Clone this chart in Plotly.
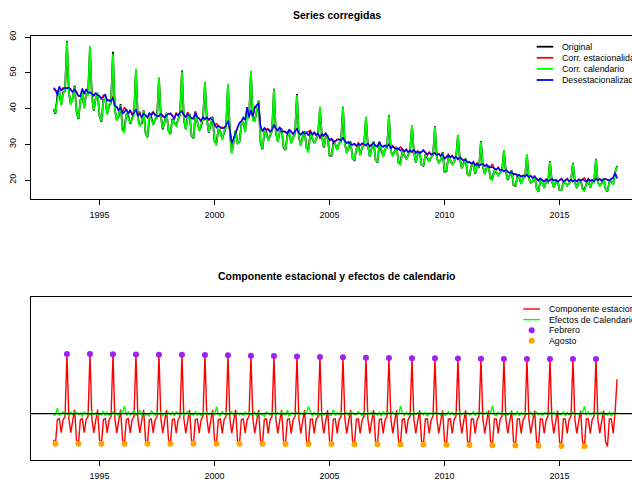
import plotly.graph_objects as go

# ---------------- data (monthly, Jan 1993 - Jul 2017) ----------------
inicio = 1993
ticks_x = [1995, 2000, 2005, 2010, 2015]
ticks_y = [20, 30, 40, 50, 60]

# Serie desestacionalizada (azul)
desestacionalizada = [
    45.8, 45.3, 43.6, 46.2, 45.0, 45.4, 45.8, 45.6, 45.9, 45.2, 44.6, 45.3,  # 1993
    44.4, 43.6, 43.4, 45.6, 44.0, 45.4, 44.4, 44.6, 44.1, 43.6, 44.3, 43.7,  # 1994
    43.5, 42.8, 43.2, 44.0, 42.2, 42.4, 42.0, 43.0, 40.8, 40.4, 39.6, 40.2,  # 1995
    38.6, 39.0, 39.8, 38.4, 39.6, 38.2, 38.8, 39.8, 38.0, 38.5, 37.6, 38.6,  # 1996
    38.2, 37.6, 38.8, 38.0, 38.9, 38.3, 37.8, 37.9, 38.5, 38.0, 37.5, 38.2,  # 1997
    38.4, 38.7, 37.9, 37.3, 38.5, 38.0, 39.0, 39.2, 38.2, 37.6, 38.6, 37.9,  # 1998
    37.3, 37.3, 38.9, 37.6, 37.2, 36.6, 37.6, 37.0, 37.5, 36.9, 37.3, 36.8,  # 1999
    35.6, 34.6, 35.2, 34.9, 34.4, 34.6, 35.2, 36.6, 34.0, 30.2, 31.6, 33.2,  # 2000
    34.6, 36.0, 36.4, 37.5, 36.8, 40.4, 37.6, 39.5, 37.8, 40.2, 41.0, 41.3,  # 2001
    35.0, 33.7, 34.6, 33.9, 34.2, 33.6, 34.0, 35.5, 34.4, 33.8, 34.8, 33.5,  # 2002
    33.6, 33.5, 32.9, 34.2, 33.4, 32.8, 33.7, 34.3, 33.1, 32.6, 33.4, 32.9,  # 2003
    33.2, 32.4, 33.6, 32.8, 33.3, 32.6, 33.0, 31.8, 32.9, 32.4, 33.1, 32.0,  # 2004
    31.2, 31.6, 30.6, 30.9, 31.3, 31.4, 31.0, 31.9, 30.8, 30.3, 30.7, 30.0,  # 2005
    29.8, 30.2, 29.6, 30.1, 29.7, 30.3, 29.9, 29.7, 30.2, 29.4, 29.8, 30.4,  # 2006
    29.5, 29.4, 30.6, 29.6, 29.2, 29.7, 29.3, 29.9, 28.9, 29.4, 29.0, 28.7,  # 2007
    28.8, 28.2, 28.6, 28.0, 28.5, 27.8, 28.3, 27.9, 28.4, 27.6, 28.0, 27.5,  # 2008
    27.8, 28.4, 27.6, 27.2, 27.7, 27.1, 27.4, 27.5, 27.0, 27.3, 26.8, 27.2,  # 2009
    26.0, 26.6, 26.9, 26.4, 26.7, 26.1, 26.5, 25.8, 26.3, 25.9, 25.4, 25.7,  # 2010
    24.9, 25.1, 24.6, 24.9, 24.2, 24.6, 24.0, 24.3, 24.5, 23.9, 24.2, 23.6,  # 2011
    23.5, 23.6, 23.2, 23.0, 23.4, 22.7, 22.9, 22.5, 22.8, 22.3, 22.0, 22.2,  # 2012
    21.6, 21.8, 21.2, 21.5, 20.9, 21.3, 21.0, 21.5, 20.8, 21.1, 20.6, 20.9,  # 2013
    20.3, 19.9, 20.4, 20.0, 19.6, 20.2, 19.7, 19.9, 20.3, 19.8, 20.1, 19.5,  # 2014
    20.0, 20.4, 19.6, 19.9, 20.3, 19.7, 20.1, 19.5, 20.0, 19.6, 20.2, 19.8,  # 2015
    20.1, 19.9, 19.5, 20.2, 19.8, 20.0, 19.6, 20.4, 19.9, 20.3, 19.7, 20.2,  # 2016
    20.3, 20.1, 19.8, 20.4, 20.6, 22.0, 20.4,                                # 2017
]

# Componente estacional (%)
comp_estacional = [
    -12.6, -14.6, -2.9, -2.4, -9.2, -2.9, -1.4, 28.8, -2.4, -9.2, -3.4, 1.9,  # 1993
    -12.6, -14.6, -2.9, -2.4, -9.2, -2.9, -1.4, 28.8, -2.4, -9.3, -3.4, 1.9,  # 1994
    -12.7, -14.6, -2.9, -2.4, -9.3, -2.9, -1.4, 28.7, -2.4, -9.3, -3.4, 1.9,  # 1995
    -12.7, -14.5, -2.8, -2.4, -9.3, -2.9, -1.4, 28.6, -2.4, -9.3, -3.5, 1.9,  # 1996
    -12.8, -14.5, -2.8, -2.5, -9.3, -2.9, -1.4, 28.5, -2.4, -9.3, -3.5, 1.8,  # 1997
    -12.8, -14.5, -2.8, -2.5, -9.4, -2.9, -1.4, 28.4, -2.5, -9.4, -3.5, 1.8,  # 1998
    -12.9, -14.6, -2.8, -2.5, -9.4, -2.9, -1.3, 28.3, -2.5, -9.4, -3.5, 1.8,  # 1999
    -12.9, -14.6, -2.8, -2.5, -9.4, -2.9, -1.3, 28.2, -2.5, -9.4, -3.5, 1.8,  # 2000
    -13.0, -14.6, -2.8, -2.5, -9.4, -3.0, -1.3, 28.0, -2.5, -9.4, -3.5, 1.8,  # 2001
    -13.0, -14.6, -2.7, -2.5, -9.5, -3.0, -1.3, 27.8, -2.5, -9.5, -3.5, 1.7,  # 2002
    -13.0, -14.7, -2.7, -2.5, -9.5, -3.0, -1.3, 27.6, -2.5, -9.5, -3.5, 1.7,  # 2003
    -13.1, -14.7, -2.7, -2.5, -9.5, -3.0, -1.3, 27.4, -2.5, -9.5, -3.5, 1.7,  # 2004
    -13.1, -14.7, -2.7, -2.5, -9.5, -3.0, -1.3, 27.2, -2.5, -9.5, -3.5, 1.7,  # 2005
    -13.1, -14.8, -2.7, -2.5, -9.5, -3.0, -1.3, 27.0, -2.5, -9.5, -3.6, 1.7,  # 2006
    -13.2, -14.8, -2.7, -2.5, -9.5, -3.0, -1.3, 26.9, -2.5, -9.5, -3.6, 1.6,  # 2007
    -13.2, -14.9, -2.7, -2.5, -9.5, -3.0, -1.2, 26.8, -2.5, -9.6, -3.6, 1.6,  # 2008
    -13.2, -14.9, -2.6, -2.5, -9.6, -3.0, -1.2, 26.7, -2.6, -9.6, -3.6, 1.6,  # 2009
    -13.3, -15.0, -2.6, -2.6, -9.6, -3.0, -1.2, 26.6, -2.6, -9.6, -3.6, 1.6,  # 2010
    -13.3, -15.1, -2.6, -2.6, -9.6, -3.0, -1.2, 26.5, -2.6, -9.6, -3.6, 1.6,  # 2011
    -13.3, -15.3, -2.6, -2.6, -9.6, -3.0, -1.2, 26.4, -2.6, -9.6, -3.6, 1.5,  # 2012
    -13.4, -15.4, -2.6, -2.6, -9.6, -3.0, -1.2, 26.4, -2.6, -9.6, -3.6, 1.5,  # 2013
    -13.4, -15.5, -2.6, -2.6, -9.6, -3.0, -1.2, 26.4, -2.6, -9.6, -3.6, 1.5,  # 2014
    -13.5, -15.6, -2.6, -2.6, -9.6, -3.0, -1.2, 26.4, -2.6, -9.6, -3.6, 1.5,  # 2015
    -13.5, -15.8, -2.6, -2.6, -9.6, -3.0, -1.2, 26.4, -2.6, -9.6, -3.6, 1.5,  # 2016
    -13.6, -15.9, -2.6, -2.6, -9.6, 0.8, 16.6,                                # 2017
]

# Efectos de calendario (%)
efectos_calendario = [
    -1.0, -0.4, 2.6, -0.8, 0.3, 0.9, -0.6, 0.4, -1.1, 0.7, -0.3, 0.5,   # 1993
    0.6, -0.5, 0.4, -1.4, 0.8, -0.2, 0.5, -0.7, 0.9, -0.4, 0.2, -0.9,   # 1994
    -0.3, -0.6, 1.2, -1.0, 0.6, -0.8, 0.2, 0.9, -0.5, 0.4, -1.2, 0.7,   # 1995
    0.8, 3.6, -0.9, 1.1, -0.6, 0.3, 1.4, -0.8, 0.2, 1.6, -1.3, 0.4,     # 1996
    -0.7, -0.5, -1.2, 1.3, 0.4, -0.6, 0.8, -0.3, 0.6, -0.9, 0.3, -0.4,  # 1997
    0.5, -0.6, 0.7, -1.1, 0.9, 0.2, -0.5, 0.6, -0.8, 0.3, 1.0, -0.6,    # 1998
    -0.4, -0.6, 0.9, -0.7, 0.3, -1.2, 0.6, -0.2, 0.8, -0.5, 0.1, 0.7,   # 1999
    -0.8, 3.4, -0.3, -1.1, 1.2, -0.4, 0.5, -0.6, 0.4, 0.9, -0.7, 0.2,   # 2000
    0.6, -0.5, 0.3, -0.9, 0.7, -0.3, 0.8, -0.5, -0.2, 0.6, -1.0, 0.4,   # 2001
    -0.2, -0.6, -1.3, 0.8, 0.4, -0.7, 0.6, 0.3, -0.8, 0.5, -0.4, 0.9,   # 2002
    -0.5, -0.6, 1.6, -1.4, 0.5, 0.2, -0.3, 0.7, -0.9, 0.4, -0.2, 0.6,   # 2003
    0.3, 3.5, 0.8, -1.2, 0.6, -0.5, 0.4, -1.0, 0.7, -0.6, 0.2, -0.3,    # 2004
    -0.9, -0.6, 1.9, -0.8, 0.5, -0.4, 0.7, -0.3, 0.2, 0.6, -1.1, 0.8,   # 2005
    0.4, -0.6, -0.5, 1.0, 0.3, -0.9, 0.6, -0.4, 0.5, -0.2, 0.8, -0.7,   # 2006
    0.2, -0.6, 0.6, -1.2, 0.9, -0.3, 0.4, 0.5, -0.6, 0.7, -0.4, 0.3,    # 2007
    -0.6, 3.7, 0.4, -0.9, 0.7, -0.5, 0.3, -0.7, 0.6, -0.3, 0.5, 0.2,    # 2008
    0.5, -0.6, 0.8, -1.3, 0.4, 0.2, -0.5, 0.6, -0.4, 0.3, -0.8, 0.7,    # 2009
    -0.8, -0.6, 1.1, -0.4, 0.6, -0.7, 0.3, -0.2, 0.8, -0.5, 0.4, -0.3,  # 2010
    0.4, -0.6, -0.2, 0.9, -0.8, 0.5, -0.3, 0.6, -0.5, 0.2, 0.7, -0.6,   # 2011
    0.3, 3.8, -0.5, -1.0, 0.7, -0.2, 0.5, -0.6, 0.4, -0.7, 0.3, 0.6,    # 2012
    -0.6, -0.6, 1.2, -1.1, 0.5, -0.3, 0.6, -0.4, 0.3, 0.8, -0.9, 0.2,   # 2013
    0.7, -0.6, 0.3, -0.8, 0.4, 0.2, -0.6, 0.5, -0.3, 0.6, -0.5, 0.4,    # 2014
    -0.5, -0.6, 0.8, -0.9, 0.6, -0.4, 0.3, 0.7, -0.6, 0.2, -0.3, 0.5,   # 2015
    0.6, 3.6, -0.7, 0.9, -0.5, 0.4, -0.2, 0.6, -0.4, 0.3, 0.7, -0.8,    # 2016
    -0.3, -0.6, 0.7, -1.0, 0.4, -0.3, 0.5,                              # 2017
]

anios_marcados = list(range(1993, 2017))  # años con punto de febrero/agosto

assert len(desestacionalizada) == len(comp_estacional) == len(efectos_calendario)

# ---------------- derived series (decomposition) ----------------
n = len(desestacionalizada)
tiempo = [inicio + i / 12 for i in range(n)]
f_est = [1 + s / 100 for s in comp_estacional]
f_cal = [1 + c / 100 for c in efectos_calendario]
original = [d * a * b for d, a, b in zip(desestacionalizada, f_est, f_cal)]
corr_calendario = [d * a for d, a in zip(desestacionalizada, f_est)]
corr_estacionalidad = [d * b for d, b in zip(desestacionalizada, f_cal)]

idx_pico = [(a - inicio) * 12 + 7 for a in anios_marcados]
idx_valle = [(a - inicio) * 12 + 1 for a in anios_marcados]

# ---------------- figure ----------------
W, H = 632, 482
L, R, T, B = 31, 0, 36, 22
PW, PH = W - L - R, H - T - B
FONT = "Liberation Sans, Arial, Helvetica, sans-serif"
VERDE = "#00FF00"
PURPURA = "#A020F0"
NARANJA = "#FFA500"

def px_x(X):
    return (X - L) / PW

def px_y(Y):
    return (H - B - Y) / PH

fig = go.Figure()

# top panel
for serie, color, w in [(original, "black", 1.8), (corr_estacionalidad, "red", 1.5),
                        (corr_calendario, VERDE, 1.7), (desestacionalizada, "blue", 1.5)]:
    fig.add_trace(go.Scatter(x=tiempo, y=serie, mode="lines",
                             line=dict(color=color, width=w),
                             xaxis="x", yaxis="y", hoverinfo="skip"))

# bottom panel
fig.add_trace(go.Scatter(x=tiempo, y=comp_estacional, mode="lines",
                         line=dict(color="red", width=1.4),
                         xaxis="x2", yaxis="y2", hoverinfo="skip"))
fig.add_trace(go.Scatter(x=tiempo, y=efectos_calendario, mode="lines",
                         line=dict(color=VERDE, width=1.4),
                         xaxis="x2", yaxis="y2", hoverinfo="skip"))
fig.add_trace(go.Scatter(x=[tiempo[i] for i in idx_pico],
                         y=[comp_estacional[i] for i in idx_pico],
                         mode="markers", marker=dict(color=PURPURA, size=6),
                         xaxis="x2", yaxis="y2", hoverinfo="skip"))
fig.add_trace(go.Scatter(x=[tiempo[i] for i in idx_valle],
                         y=[comp_estacional[i] for i in idx_valle],
                         mode="markers", marker=dict(color=NARANJA, size=6),
                         xaxis="x2", yaxis="y2", hoverinfo="skip"))

xr = [1992.02, 1992.02 + PW / 23.0]
top_dom = [(H - B - 198.7) / PH, 1.0]
bot_dom = [0.0, (H - B - 297.3) / PH]

xcommon = dict(range=xr, tickmode="array", tickvals=ticks_x, ticks="outside",
               ticklen=5, tickwidth=1, tickcolor="black", showline=True,
               linecolor="black", linewidth=1, mirror=True, showgrid=False,
               zeroline=False, tickfont=dict(size=9, color="black", family=FONT),
               ticklabelstandoff=2)

fig.update_layout(
    width=W, height=H,
    margin=dict(l=L, r=R, t=T, b=B, pad=0),
    paper_bgcolor="white", plot_bgcolor="white",
    showlegend=False,
    font=dict(family=FONT, size=9, color="black"),
    xaxis=dict(domain=[0, 1], anchor="y", **xcommon),
    xaxis2=dict(domain=[0, 1], anchor="y2", **xcommon),
    yaxis=dict(domain=top_dom, anchor="x", range=[14.77, 60.28],
               tickmode="array", tickvals=ticks_y, ticks="outside",
               ticklen=5, tickwidth=1, tickcolor="black", tickangle=-90,
               showline=True, linecolor="black", linewidth=1, mirror=False,
               showgrid=False, zeroline=False, ticklabelstandoff=5,
               tickfont=dict(size=9, color="black", family=FONT)),
    yaxis2=dict(domain=bot_dom, anchor="x2", range=[-22.4, 56.2],
                showticklabels=False, ticks="", showline=True,
                linecolor="black", linewidth=1, mirror=False,
                showgrid=False, zeroline=False),
)

shapes = []
annotations = []

# zero line bottom panel
shapes.append(dict(type="line", xref="paper", x0=0, x1=1, yref="y2", y0=0, y1=0,
                   line=dict(color="black", width=1.4), layer="above"))

# titles
annotations.append(dict(text="<b>Series corregidas</b>", xref="paper", yref="paper",
                        x=px_x(337), y=px_y(15), xanchor="center", yanchor="middle",
                        showarrow=False, font=dict(size=10.5, family=FONT, color="black")))
annotations.append(dict(text="<b>Componente estacional y efectos de calendario</b>",
                        xref="paper", yref="paper", x=px_x(337), y=px_y(276),
                        xanchor="center", yanchor="middle", showarrow=False,
                        font=dict(size=10.5, family=FONT, color="black")))

# top legend
leg_top = [("Original", "black"), ("Corr. estacionalidad", "red"),
           ("Corr. calendario", VERDE), ("Desestacionalizada", "blue")]
for k, (txt, col) in enumerate(leg_top):
    Y = 46.7 + k * 11.1
    shapes.append(dict(type="line", xref="paper", yref="paper",
                       x0=px_x(536.7), x1=px_x(553.3), y0=px_y(Y), y1=px_y(Y),
                       line=dict(color=col, width=1.8)))
    annotations.append(dict(text=txt, xref="paper", yref="paper", x=px_x(560),
                            y=px_y(Y), xanchor="left", yanchor="middle",
                            showarrow=False, font=dict(size=8.8, family=FONT, color="black")))

# bottom legend
leg_bot = [("Componente estacional", "red", "line"),
           ("Efectos de Calendario", VERDE, "line"),
           ("Febrero", PURPURA, "point"),
           ("Agosto", NARANJA, "point")]
for k, (txt, col, kind) in enumerate(leg_bot):
    Y = 309 + k * 10.6
    if kind == "line":
        shapes.append(dict(type="line", xref="paper", yref="paper",
                           x0=px_x(523.3), x1=px_x(540), y0=px_y(Y), y1=px_y(Y),
                           line=dict(color=col, width=1.4)))
    else:
        shapes.append(dict(type="circle", xref="paper", yref="paper",
                           xsizemode="pixel", ysizemode="pixel",
                           xanchor=px_x(531.7), yanchor=px_y(Y),
                           x0=-3, x1=3, y0=-3, y1=3,
                           fillcolor=col, line=dict(color=col, width=0)))
    annotations.append(dict(text=txt, xref="paper", yref="paper", x=px_x(546.7),
                            y=px_y(Y), xanchor="left", yanchor="middle",
                            showarrow=False, font=dict(size=8.8, family=FONT, color="black")))

fig.update_layout(shapes=shapes, annotations=annotations)

fig.write_html("out.html", config={"displayModeBar": False})
